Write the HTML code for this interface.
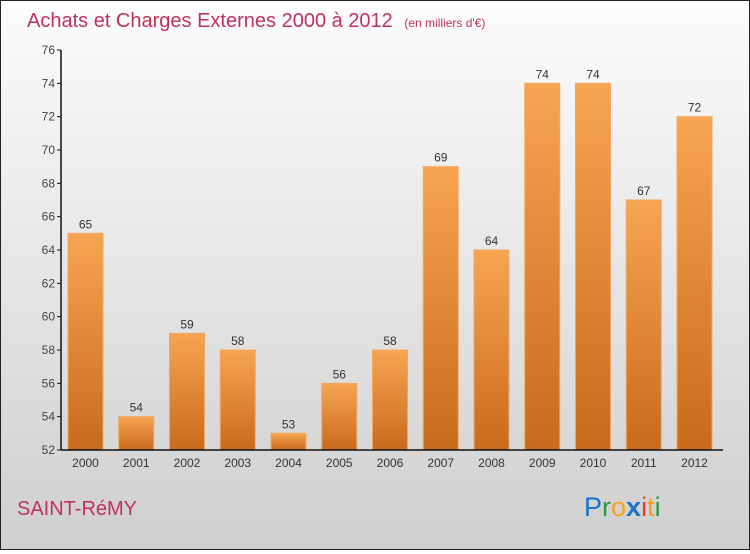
<!DOCTYPE html>
<html><head><meta charset="utf-8"><style>
body{margin:0;width:750px;height:550px;overflow:hidden;font-family:"Liberation Sans",sans-serif}
#c{position:absolute;left:0;top:0;width:748px;height:548px;border:1px solid #222;background:linear-gradient(#fcfcfc,#cfcfcf)}
</style></head><body>
<div id="c">
<svg width="748" height="548" id="svg">
<defs><linearGradient id="bg" x1="0" y1="0" x2="0" y2="1"><stop offset="0" stop-color="#f7a552"/><stop offset="1" stop-color="#c96a1c"/></linearGradient></defs>
<text x="26" y="26" font-size="20" fill="#c0325c">Achats et Charges Externes 2000 à 2012 <tspan font-size="12" dx="6">(en milliers d'€)</tspan></text>
<text x="16" y="514" font-size="20" fill="#c0325c">SAINT-RéMY</text>
<g font-size="27" font-family="'Liberation Sans',sans-serif">
<text x="583" y="515"><tspan fill="#1a72c9">P</tspan><tspan fill="#2a9a3a">r</tspan><tspan fill="#f7a020">o</tspan><tspan fill="#1a72c9" font-weight="bold">x</tspan><tspan fill="#e8401c">i</tspan><tspan fill="#f7a020">t</tspan><tspan fill="#2a9a3a">i</tspan></text></g>
<g id="g"></g>
</svg></div>
<script>
const years=["2000","2001","2002","2003","2004","2005","2006","2007","2008","2009","2010","2011","2012"];
const values=[65,54,59,58,53,56,58,69,64,74,74,67,72];
const yTicks=[52,54,56,58,60,62,64,66,68,70,72,74,76];
const NS="http://www.w3.org/2000/svg";
const g=document.getElementById('g');
const y=v=>449-(v-52)*400/24;
const x=i=>67+i*50.75;
function el(t,a,p){const e=document.createElementNS(NS,t);for(const k in a)e.setAttribute(k,a[k]);(p||g).appendChild(e);return e;}
years.forEach((yr,i)=>{
 const r=el('rect',{x:x(i),y:y(values[i]),width:35,height:y(52)-y(values[i]),fill:'url(#bg)',stroke:'#f0a860','stroke-width':1});
 
 
 const t=el('text',{x:x(i)+17.5,y:y(values[i])-5,'text-anchor':'middle','font-size':12,fill:'#333'});t.textContent=values[i];
 
 
 const l=el('text',{x:x(i)+17.5,y:466,'text-anchor':'middle','font-size':12,fill:'#333'});l.textContent=yr;
 
 
});
yTicks.forEach(v=>{
 el('line',{x1:56,x2:60,y1:y(v),y2:y(v),stroke:'#111'});
 const t=el('text',{x:54,y:y(v)+4,'text-anchor':'end','font-size':12,fill:'#444'});t.textContent=v;
 
 
});
const ya=el('line',{x1:60,x2:60,y1:y(76),y2:y(52),stroke:'#111','stroke-width':1.5});


const xa=el('line',{x1:60,x2:722,y1:y(52),y2:y(52),stroke:'#111','stroke-width':1.5});


</script>
</body></html>
